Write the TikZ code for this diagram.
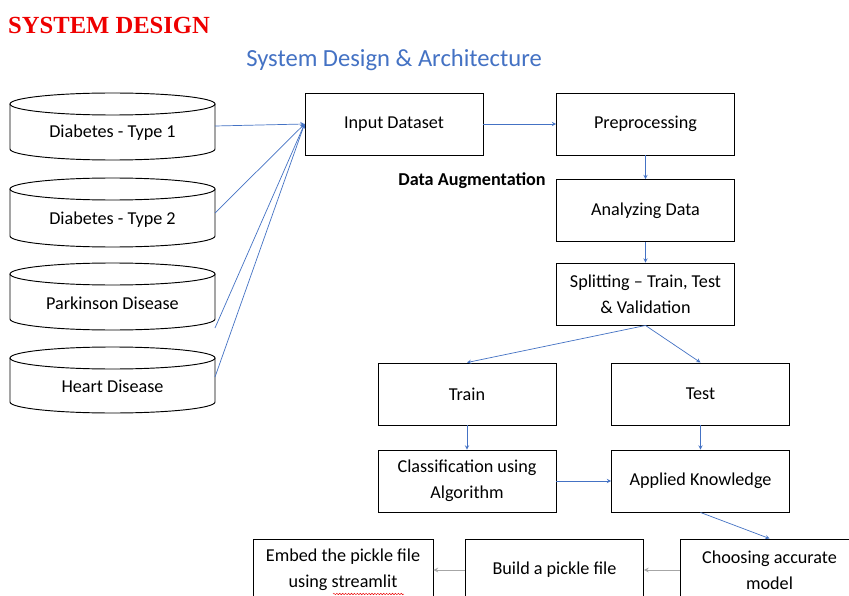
\documentclass[tikz,border=0pt]{standalone}
\usepackage{fontspec}
\setmainfont{Carlito}
\newfontfamily\headfont{Liberation Serif}
\usepackage{xcolor}
\definecolor{sdBlue}{HTML}{4472C4}
\definecolor{sdRed}{HTML}{EE0000}
\definecolor{sdGray}{HTML}{A6A6A6}
\usepackage{tikz}
\usetikzlibrary{calc,decorations.pathmorphing}
\newcommand{\diagfont}{\fontsize{15.5}{22}\selectfont}

\begin{document}
\begin{tikzpicture}[>=stealth, x=0.03cm, y=-0.03cm,
    box/.style={draw, line width=0.8pt, minimum width=5.34cm, minimum height=1.86cm,
      align=center, font=\diagfont, inner sep=2pt},
    flow/.style={->, sdBlue, line width=0.6pt},
    back/.style={->, sdGray, line width=0.8pt}]
  \useasboundingbox (0,0) rectangle (849,596);
  \fill[white] (0,0) rectangle (849,596);
  \clip (0,0) rectangle (849,596);

  % ---- headings ----
  \node[anchor=west, inner sep=0pt, text=sdRed, font=\headfont\bfseries\fontsize{21}{24}\selectfont]
    (head) at (8,25) {SYSTEM DESIGN};
  \node[text=sdBlue, font=\fontsize{21}{24}\selectfont] (sub) at (394,60) {System Design \& Architecture};

  % ---- data sources: four cylinders ----
  \foreach \t/\b/\ty/\sy/\name/\txt in {104/149/133/126/d1/{Diabetes - Type 1},
      189/236/220/213/d2/{Diabetes - Type 2},
      274/319/303/328/d3/{Parkinson Disease},
      358/402/386/377/d4/{Heart Disease}} {
    \draw[line width=0.8pt, fill=white] (10,\t) -- (10,\b)
      arc[start angle=180, end angle=0, x radius=102.5, y radius=11] -- (215,\t);
    \draw[line width=0.8pt] (112.5,\t) ellipse [x radius=102.5, y radius=11];
    \node[font=\diagfont] (\name) at (112.5,\ty) {\txt};
    \coordinate (\name r) at (215,\sy);
  }

  % ---- pipeline ----
  \node[box] (input) at (394,124) {Input Dataset};
  \node[box] (prep) at (645.5,124) {Preprocessing};
  \node[box] (anal) at (645.5,210.5) {Analyzing Data};
  \node[box] (split) at (645.5,294) {Splitting -- Train, Test\\ \& Validation};
  \node[font=\diagfont\bfseries] (aug) at (472,181) {Data Augmentation};
  \node[box] (train) at (467,394) {Train};
  \node[box] (test) at (700.5,394) {Test};
  \node[box] (clf) at (467,481) {Classification using\\ Algorithm};
  \node[box] (know) at (700.5,481) {Applied Knowledge};
  \node[box] (choose) at (769.5,570) {Choosing accurate\\ model};
  \node[box] (pickle) at (554.5,570) {Build a pickle file};
  \node[box, minimum width=5.4cm] (embed) at (343,570) {Embed the pickle file\\ using streamlit};
  % spell-check squiggle under "streamlit"
  \draw[sdRed, line width=0.4pt, decorate, decoration={snake, amplitude=0.6pt, segment length=2.5pt}]
    (333,594) -- (404,594);

  % ---- connectors ----
  \foreach \s in {d1r,d2r,d3r,d4r}
    \draw[flow] (\s) -- (input.west);
  \draw[flow] (input) -- (prep);
  \draw[flow] (prep) -- (anal);
  \draw[flow] (anal) -- (split);
  \draw[flow] (split.south) -- (train.north);
  \draw[flow] (split.south) -- (test.north);
  \draw[flow] (train) -- (clf);
  \draw[flow] (test) -- (know);
  \draw[flow] (clf) -- (know);
  \draw[flow] (know.south) -- (choose.north);
  \draw[back] (choose) -- (pickle);
  \draw[back] (pickle) -- (embed);
\end{tikzpicture}
\end{document}
